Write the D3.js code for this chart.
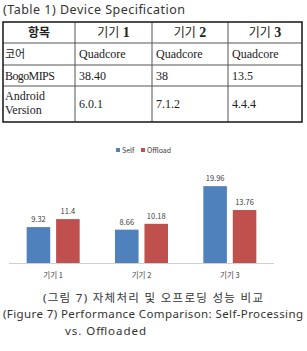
<!DOCTYPE html>
<meta charset="utf-8">
<head>
    <title>Device spec and offloading</title>
    <style>
        html, body { margin: 0; padding: 0; background: #fff; }
        svg { display: block; }
        .title { font-family: "Noto Sans", "Noto Sans CJK KR", sans-serif; fill: #333; }
        .cell { font-family: "Liberation Serif", "Noto Sans CJK KR", serif; font-size: 12px; fill: #222; }
        .ko { font-family: "Noto Sans CJK KR", sans-serif; }
        .chart text { font-family: "Noto Sans CJK KR", "Noto Sans", sans-serif; fill: #404040; }
    </style>
</head>
<body>
    <svg width="307" height="351"></svg>
    <script src="https://cdn.jsdelivr.net/npm/d3@7/dist/d3.min.js"></script>
    <script>
        // table
        let tableHeader = ['항목', '기기 1', '기기 2', '기기 3'];
        let tableRows = [
            ['코어', 'Quadcore', 'Quadcore', 'Quadcore'],
            ['BogoMIPS', '38.40', '38', '13.5'],
            ['Android\nVersion', '6.0.1', '7.1.2', '4.4.4']
        ];

        // chart
        let devices = ['기기 1', '기기 2', '기기 3'];
        let seriesNames = ['Self', 'Offload'];
        let selfValues = [9.32, 8.66, 19.96];
        let offloadValues = [11.4, 10.18, 13.76];
        let colors = ['#4f81bd', '#c0504d'];

        let svg = d3.select('svg');

        svg.append('text').attr('class', 'title')
            .attr('x', 3).attr('y', 14)
            .style('font-size', '12.5px')
            .attr('textLength', 182)
            .text('(Table 1) Device Specification');

        // table layout
        let colEdges = [3, 75, 152, 228, 302];
        let rowEdges = [22, 43, 65, 86, 122];

        let t = svg.append('g').attr('class', 'table');

        colEdges.slice(1, -1).forEach(x => {
            t.append('line').attr('x1', x).attr('x2', x)
                .attr('y1', rowEdges[0]).attr('y2', rowEdges[4])
                .attr('stroke', '#555').attr('stroke-width', 1);
        });
        rowEdges.slice(1, -1).forEach(y => {
            t.append('line').attr('x1', colEdges[0]).attr('x2', colEdges[4])
                .attr('y1', y).attr('y2', y)
                .attr('stroke', '#555').attr('stroke-width', 1);
        });
        t.append('rect')
            .attr('x', colEdges[0]).attr('y', rowEdges[0])
            .attr('width', colEdges[4] - colEdges[0])
            .attr('height', rowEdges[4] - rowEdges[0])
            .attr('fill', 'none').attr('stroke', '#222').attr('stroke-width', 1.6);

        // header
        tableHeader.forEach((h, i) => {
            let cx = (colEdges[i] + colEdges[i + 1]) / 2;
            let txt = t.append('text').attr('class', 'cell')
                .attr('x', cx).attr('y', 37)
                .attr('text-anchor', 'middle')
                .style('font-weight', 'bold');
            let parts = h.split(' ');
            txt.append('tspan').attr('class', 'ko')
                .style('font-weight', i === 0 ? 'bold' : 'normal')
                .style('font-size', '12px')
                .text(parts[0]);
            if (parts[1]) {
                txt.append('tspan').style('font-size', '14px').text(' ' + parts[1]);
            }
        });

        // body
        tableRows.forEach((row, r) => {
            let top = rowEdges[r + 1], bottom = rowEdges[r + 2];
            row.forEach((v, c) => {
                let lines = v.split('\n');
                let txt = t.append('text').attr('class', 'cell' + (/[가-힣]/.test(v) ? ' ko' : ''))
                    .attr('x', colEdges[c] + (c === 0 ? 2 : 4))
                    .style('font-size', /[가-힣]/.test(v) ? '11px' : '12px')
                    .style('letter-spacing', v === 'BogoMIPS' ? '-0.6px' : null);
                if (lines.length === 1) {
                    txt.attr('y', (top + bottom) / 2 + 4).text(v);
                } else {
                    lines.forEach((l, k) => {
                        txt.append('tspan').attr('x', colEdges[c] + 2)
                            .attr('y', top + 14 + k * 14).text(l);
                    });
                }
            });
        });

        // bar chart
        let chart = svg.append('g').attr('class', 'chart');

        let x0 = d3.scaleBand().domain(devices).range([9, 274]).paddingInner(0.4).paddingOuter(0.2);
        let x1 = d3.scaleBand().domain(seriesNames).range([0, x0.bandwidth()]).paddingInner(0.2);
        let y = d3.scaleLinear().domain([0, 25]).range([263, 166.75]);

        let data = devices.map((d, i) => ({ device: d, values: [selfValues[i], offloadValues[i]] }));

        let groups = chart.selectAll('g.group').data(data).enter()
            .append('g').attr('class', 'group')
            .attr('transform', d => 'translate(' + x0(d.device) + ',0)');

        groups.selectAll('rect').data(d => d.values.map((v, k) => ({ s: seriesNames[k], v: v, k: k })))
            .enter().append('rect')
            .attr('x', d => x1(d.s))
            .attr('y', d => y(d.v))
            .attr('width', x1.bandwidth())
            .attr('height', d => y(0) - y(d.v))
            .attr('fill', d => colors[d.k]);

        groups.selectAll('text.val').data(d => d.values.map((v, k) => ({ s: seriesNames[k], v: v })))
            .enter().append('text').attr('class', 'val')
            .attr('x', d => x1(d.s) + x1.bandwidth() / 2)
            .attr('y', d => y(d.v) - 5)
            .attr('text-anchor', 'middle')
            .style('font-size', '7.5px')
            .text(d => d.v);

        chart.append('line')
            .attr('x1', 9).attr('x2', 274)
            .attr('y1', y(0) + 0.5).attr('y2', y(0) + 0.5)
            .attr('stroke', '#d0d0d0');

        chart.append('g')
            .attr('transform', 'translate(0,' + y(0) + ')')
            .call(d3.axisBottom(x0).tickSize(0).tickPadding(10))
            .call(g => g.select('.domain').remove())
            .selectAll('text')
            .style('font-size', '7.5px')
            .attr('fill', '#404040');

        // legend
        let legend = chart.append('g').attr('transform', 'translate(116,148)');
        let lx = [0, 25];
        seriesNames.forEach((s, k) => {
            legend.append('rect').attr('x', lx[k]).attr('y', 0)
                .attr('width', 4).attr('height', 4).attr('fill', colors[k]);
            legend.append('text').attr('x', lx[k] + 6).attr('y', 4.5)
                .style('font-size', '7px').text(s);
        });

        // caption
        svg.append('text').attr('class', 'title')
            .attr('x', 43).attr('y', 302)
            .style('font-size', '11.5px')
            .attr('textLength', 220)
            .text('(그림 7) 자체처리 및 오프로딩 성능 비교');
        svg.append('text').attr('class', 'title')
            .attr('x', 3).attr('y', 318)
            .style('font-size', '11.5px')
            .attr('textLength', 300)
            .text('(Figure 7) Performance Comparison: Self-Processing');
        svg.append('text').attr('class', 'title')
            .attr('x', 65).attr('y', 335)
            .style('font-size', '11.5px')
            .attr('textLength', 81)
            .text('vs. Offloaded');
    </script>
</body>
</html>
